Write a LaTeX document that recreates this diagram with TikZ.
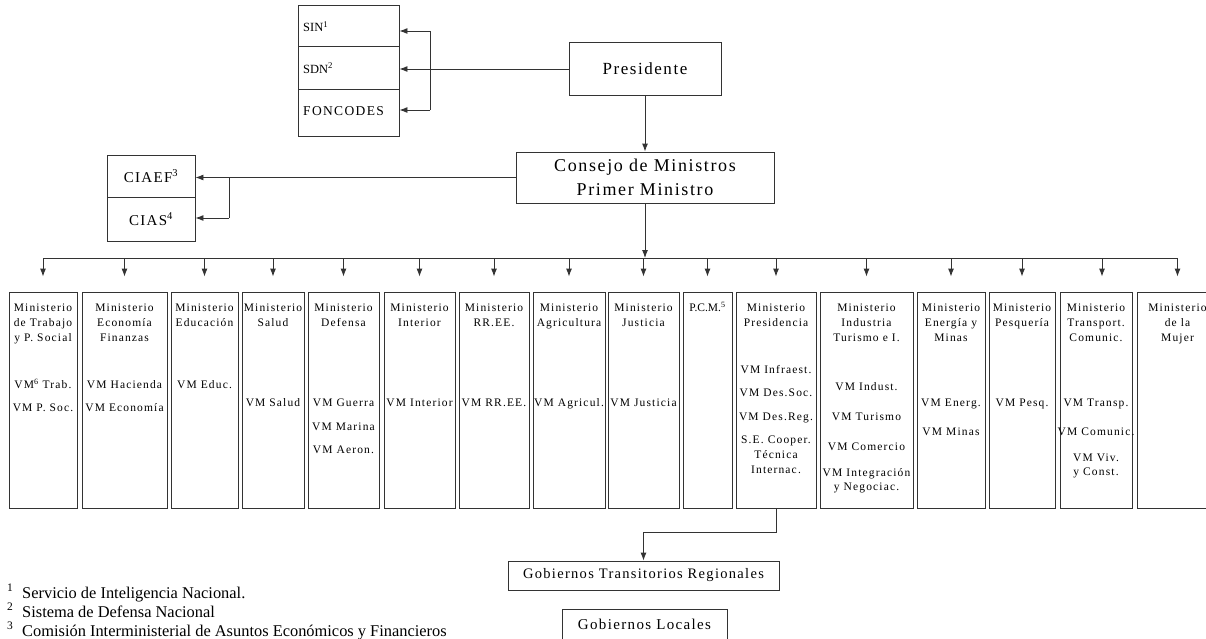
\documentclass[tikz,border=0pt]{standalone}
\usepackage{fontspec}
\setmainfont{Liberation Serif}
\newfontfamily\spf[LetterSpace=10]{Liberation Serif}
\newfontfamily\spg[LetterSpace=9]{Liberation Serif}
\usetikzlibrary{arrows.meta}
\tikzset{
  ln/.style={draw=black!80, line width=0.9pt},
  arr/.style={ln, -{Latex[length=8pt,width=6pt]}},
  box/.style={draw=black!80, line width=0.9pt, inner sep=0pt},
  mbx/.style={box, minimum height=216pt},
  bt/.style={inner sep=0pt, text height=7.6pt, text depth=0pt, font=\spf\fontsize{11.5}{13}\selectfont},
  big/.style={font=\spg\fontsize{17}{24}\selectfont},
  mid/.style={font=\spg\fontsize{15}{18}\selectfont},
  fn/.style={inner sep=0pt, anchor=base west, font=\fontsize{16.4}{18}\selectfont},
}
\newcommand\tx[4]{\node[bt] (#1) at (#2,#3) {#4};}
\begin{document}
\begin{tikzpicture}[x=1pt,y=-1pt]
\useasboundingbox (0,0) rectangle (1206,638);
% top
\node[box, minimum width=101pt, minimum height=41pt] (sin) at (348.5,25.5) {};
\node[box, minimum width=101pt, minimum height=43pt] (sdn) at (348.5,67.5) {};
\node[box, minimum width=101pt, minimum height=47pt] (fon) at (348.5,112.5) {};
\node[inner sep=0pt, anchor=west, text height=8.3pt, text depth=0pt, font=\fontsize{12.5}{14}\selectfont] (sint) at (303,27.5) {SIN\textsuperscript{1}};
\node[inner sep=0pt, anchor=west, text height=8.3pt, text depth=0pt, font=\fontsize{12.5}{14}\selectfont] (sdnt) at (303,69) {SDN\textsuperscript{2}};
\node[inner sep=0pt, anchor=west, text height=8.9pt, text depth=0pt, font=\spf\fontsize{13.5}{16}\selectfont] (fot) at (303,111) {FONCODES};
\node[box, big, minimum width=152pt, minimum height=53pt] (pres) at (645,69) {Presidente};
\node[box, font=\spg\fontsize{18}{24}\selectfont, minimum width=258pt, minimum height=51pt, align=center] (cons) at (645,177.5) {Consejo de Ministros\\Primer Ministro};
\node[box, mid, minimum width=88pt, minimum height=42pt] (ciaef) at (151,176) {CIAEF\textsuperscript{3}};
\node[box, mid, minimum width=88pt, minimum height=44pt] (cias) at (151,219) {CIAS\textsuperscript{4}};
\coordinate (bt) at (430,31);
\coordinate (bb) at (430,110);
\coordinate (cb) at (229,218);
\draw[arr] (pres.west) -- (pres.west -| sdn.east);
\draw[ln] (bt) -- (bb);
\draw[arr] (bt) -- (bt -| sin.east);
\draw[arr] (bb) -- (bb -| fon.east);
\draw[arr] (pres.south) -- (cons.north);
\draw[arr] (cons.west) -- (cons.west -| ciaef.east);
\draw[ln] (cons.west -| cb) -- (cb);
\draw[arr] (cb) -- (cb -| cias.east);
% ministry boxes
\node[mbx, minimum width=68pt] (m1) at (43,400) {};
\node[mbx, minimum width=85pt] (m2) at (124.5,400) {};
\node[mbx, minimum width=67pt] (m3) at (204.5,400) {};
\node[mbx, minimum width=62pt] (m4) at (273,400) {};
\node[mbx, minimum width=71pt] (m5) at (343.5,400) {};
\node[mbx, minimum width=71pt] (m6) at (419.5,400) {};
\node[mbx, minimum width=70pt] (m7) at (494,400) {};
\node[mbx, minimum width=72pt] (m8) at (569,400) {};
\node[mbx, minimum width=71pt] (m9) at (643.5,400) {};
\node[mbx, minimum width=49pt] (m10) at (707.5,400) {};
\node[mbx, minimum width=80pt] (m11) at (776,400) {};
\node[mbx, minimum width=93pt] (m12) at (866.5,400) {};
\node[mbx, minimum width=68pt] (m13) at (951,400) {};
\node[mbx, minimum width=66pt] (m14) at (1022,400) {};
\node[mbx, minimum width=72pt] (m15) at (1096,400) {};
\node[mbx, minimum width=81pt] (m16) at (1177.5,400) {};
% bus
\coordinate (busy) at (0,258);
\draw[arr] (cons.south) -- (cons.south |- busy);
\draw[ln] (m1.north |- busy) -- (m16.north |- busy);
\foreach \m in {m1,m2,m3,m4,m5,m6,m7,m8,m9,m10,m11,m12,m13,m14,m16}{
  \draw[arr] (\m.north |- busy) -- ([yshift=15pt]\m.north);
}
\draw[arr] ([xshift=6pt]m15.north |- busy) -- ([xshift=6pt,yshift=15pt]m15.north);
% texts
\tx{a1}{43}{308}{Ministerio}\tx{a2}{43}{323}{de Trabajo}\tx{a3}{43}{338}{y P. Social}
\tx{a4}{43}{385}{VM\textsuperscript{6} Trab.}\tx{a5}{43}{408}{VM P. Soc.}
\tx{b1}{124.5}{308}{Ministerio}\tx{b2}{124.5}{323}{Economía}\tx{b3}{124.5}{338}{Finanzas}
\tx{b4}{124.5}{385}{VM Hacienda}\tx{b5}{124.5}{408}{VM Economía}
\tx{c1}{204.5}{308}{Ministerio}\tx{c2}{204.5}{323}{Educación}\tx{c3}{204.5}{385}{VM Educ.}
\tx{d1}{273}{308}{Ministerio}\tx{d2}{273}{323}{Salud}\tx{d3}{273}{403}{VM Salud}
\tx{e1}{343.5}{308}{Ministerio}\tx{e2}{343.5}{323}{Defensa}\tx{e3}{343.5}{403}{VM Guerra}
\tx{e4}{343.5}{427}{VM Marina}\tx{e5}{343.5}{450}{VM Aeron.}
\tx{f1}{419.5}{308}{Ministerio}\tx{f2}{419.5}{323}{Interior}\tx{f3}{419.5}{403}{VM Interior}
\tx{g1}{494}{308}{Ministerio}\tx{g2}{494}{323}{RR.EE.}\tx{g3}{494}{403}{VM RR.EE.}
\tx{h1}{569}{308}{Ministerio}\tx{h2}{569}{323}{Agricultura}\tx{h3}{569}{403}{VM Agricul.}
\tx{i1}{643.5}{308}{Ministerio}\tx{i2}{643.5}{323}{Justicia}\tx{i3}{643.5}{403}{VM Justicia}
\node[inner sep=0pt, text height=7.6pt, text depth=0pt, font=\fontsize{11.5}{13}\selectfont] (j1) at (707.5,308) {P.C.M.\textsuperscript{5}};
\tx{k1}{776}{308}{Ministerio}\tx{k2}{776}{323}{Presidencia}\tx{k3}{776}{370}{VM Infraest.}
\tx{k4}{776}{393}{VM Des.Soc.}\tx{k5}{776}{417}{VM Des.Reg.}\tx{k6}{776}{440}{S.E. Cooper.}
\tx{k7}{776}{455}{Técnica}\tx{k8}{776}{470}{Internac.}
\tx{l1}{866.5}{308}{Ministerio}\tx{l2}{866.5}{323}{Industria}\tx{l3}{866.5}{338}{Turismo e I.}
\tx{l4}{866.5}{387}{VM Indust.}\tx{l5}{866.5}{417}{VM Turismo}\tx{l6}{866.5}{447}{VM Comercio}
\tx{l7}{866.5}{473}{VM Integración}\tx{l8}{866.5}{487}{y Negociac.}
\tx{n1}{951}{308}{Ministerio}\tx{n2}{951}{323}{Energía y}\tx{n3}{951}{338}{Minas}
\tx{n4}{951}{403}{VM Energ.}\tx{n5}{951}{432}{VM Minas}
\tx{o1}{1022}{308}{Ministerio}\tx{o2}{1022}{323}{Pesquería}\tx{o3}{1022}{403}{VM Pesq.}
\tx{p1}{1096}{308}{Ministerio}\tx{p2}{1096}{323}{Transport.}\tx{p3}{1096}{338}{Comunic.}
\tx{p4}{1096}{403}{VM Transp.}\tx{p5}{1096}{432}{VM Comunic.}\tx{p6}{1096}{458}{VM Viv.}
\tx{p7}{1096}{472}{y Const.}
\tx{q1}{1177.5}{308}{Ministerio}\tx{q2}{1177.5}{323}{de la}\tx{q3}{1177.5}{338}{Mujer}
% regional
\node[box, font=\spg\fontsize{14.5}{18}\selectfont, minimum width=271pt, minimum height=29pt] (gtr) at (643.5,575.5) {Gobiernos Transitorios Regionales};
\node[box, mid, minimum width=165pt, minimum height=30pt] (gl) at (644.5,624) {Gobiernos Locales};
\draw[arr] (m11.south) -- ++(0,24) -| (gtr.north);
% footnotes
\node[fn] (fn1) at (7,598) {\makebox[15pt][l]{\textsuperscript{1}}Servicio de Inteligencia Nacional.};
\node[fn] (fn2) at (7,617) {\makebox[15pt][l]{\textsuperscript{2}}Sistema de Defensa Nacional};
\node[fn] (fn3) at (7,636) {\makebox[15pt][l]{\textsuperscript{3}}Comisión Interministerial de Asuntos Económicos y Financieros};
\end{tikzpicture}
\end{document}
